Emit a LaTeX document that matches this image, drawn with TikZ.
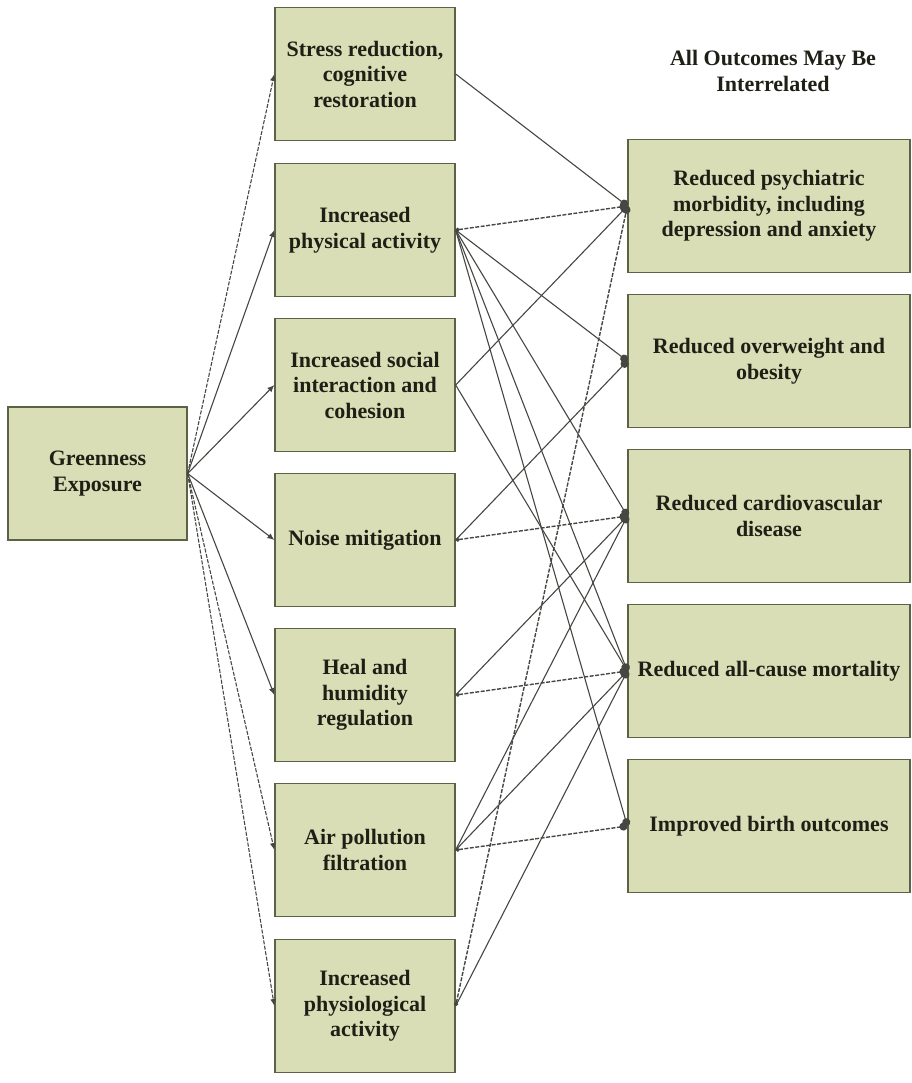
\documentclass[tikz,border=0pt]{standalone}
\usepackage{fontspec}
\setmainfont{Liberation Serif}
\usetikzlibrary{arrows.meta}
\definecolor{boxfill}{RGB}{218,222,182}
\definecolor{boxline}{RGB}{92,98,70}
\definecolor{wire}{RGB}{70,70,66}
\definecolor{ink}{RGB}{30,32,22}

\begin{document}
\begin{tikzpicture}[x=1pt, y=-1pt, font=\fontsize{22}{25.5}\selectfont\bfseries,
  box/.style={draw=boxline, fill=boxfill, line width=1.3pt, align=center,
    text=ink, minimum height=133pt, inner sep=2pt},
  mid/.style={box, minimum width=180pt},
  outcome/.style={box, minimum width=282pt},
  feed/.style={wire, line width=1.1pt, -{Latex[length=7pt,width=6pt]}},
  link/.style={wire, line width=1.1pt, -{Circle[length=8pt]}},
  dashlink/.style={link, line width=1.4pt, dash pattern=on 4pt off 1.5pt,
    {Circle[length=4pt]}-{Circle[length=8pt]}}]
  \useasboundingbox (0,0) rectangle (911,1083);

  % Exposure box
  \node[box, minimum width=179pt] (green) at (97.5,473.5) {Greenness\\Exposure};

  % Pathway boxes
  \node[mid] (stress) at (365,74) {Stress reduction,\\cognitive\\restoration};
  \node[mid] (physical) at (365,230) {Increased\\physical activity};
  \node[mid] (social) at (365,385) {Increased social\\interaction and\\cohesion};
  \node[mid] (noise) at (365,540) {Noise mitigation};
  \node[mid] (heal) at (365,695) {Heal and\\humidity\\regulation};
  \node[mid] (air) at (365,850) {Air pollution\\filtration};
  \node[mid] (physio) at (365,1006) {Increased\\physiological\\activity};

  % Outcome boxes
  \node[text=ink, align=center] (title) at (773,71) {All Outcomes May Be\\Interrelated};
  \node[outcome] (psych) at (769,206) {Reduced psychiatric\\morbidity, including\\depression and anxiety};
  \node[outcome] (weight) at (769,361) {Reduced overweight and\\obesity};
  \node[outcome] (cardio) at (769,516) {Reduced cardiovascular\\disease};
  \node[outcome] (mort) at (769,671) {Reduced all-cause mortality};
  \node[outcome] (birth) at (769,826) {Improved birth outcomes};

  % Greenness to pathways
  \draw[feed, dash pattern=on 4pt off 1.5pt] (green.east) -- (stress.west);
  \draw[feed] (green.east) -- (physical.west);
  \draw[feed] (green.east) -- (social.west);
  \draw[feed] (green.east) -- (noise.west);
  \draw[feed] (green.east) -- (heal.west);
  \draw[feed, dash pattern=on 4pt off 1.5pt] (green.east) -- (air.west);
  \draw[feed, dash pattern=on 4pt off 1.5pt] (green.east) -- (physio.west);

  % Pathways to outcomes
  \draw[link] (stress.east) -- (psych.west);
  \draw[dashlink] (physical.east) -- (psych.west);
  \draw[link] (physical.east) -- (weight.west);
  \draw[link] (physical.east) -- (cardio.west);
  \draw[link] (physical.east) -- (mort.west);
  \draw[link] (physical.east) -- (birth.west);
  \draw[link] (social.east) -- (psych.west);
  \draw[link] (social.east) -- (mort.west);
  \draw[link] (noise.east) -- (weight.west);
  \draw[dashlink] (noise.east) -- (cardio.west);
  \draw[link] (heal.east) -- (cardio.west);
  \draw[dashlink] (heal.east) -- (mort.west);
  \draw[link] (air.east) -- (cardio.west);
  \draw[link] (air.east) -- (mort.west);
  \draw[dashlink] (air.east) -- (birth.west);
  \draw[dashlink] (physio.east) -- (psych.west);
  \draw[link] (physio.east) -- (mort.west);
\end{tikzpicture}
\end{document}
